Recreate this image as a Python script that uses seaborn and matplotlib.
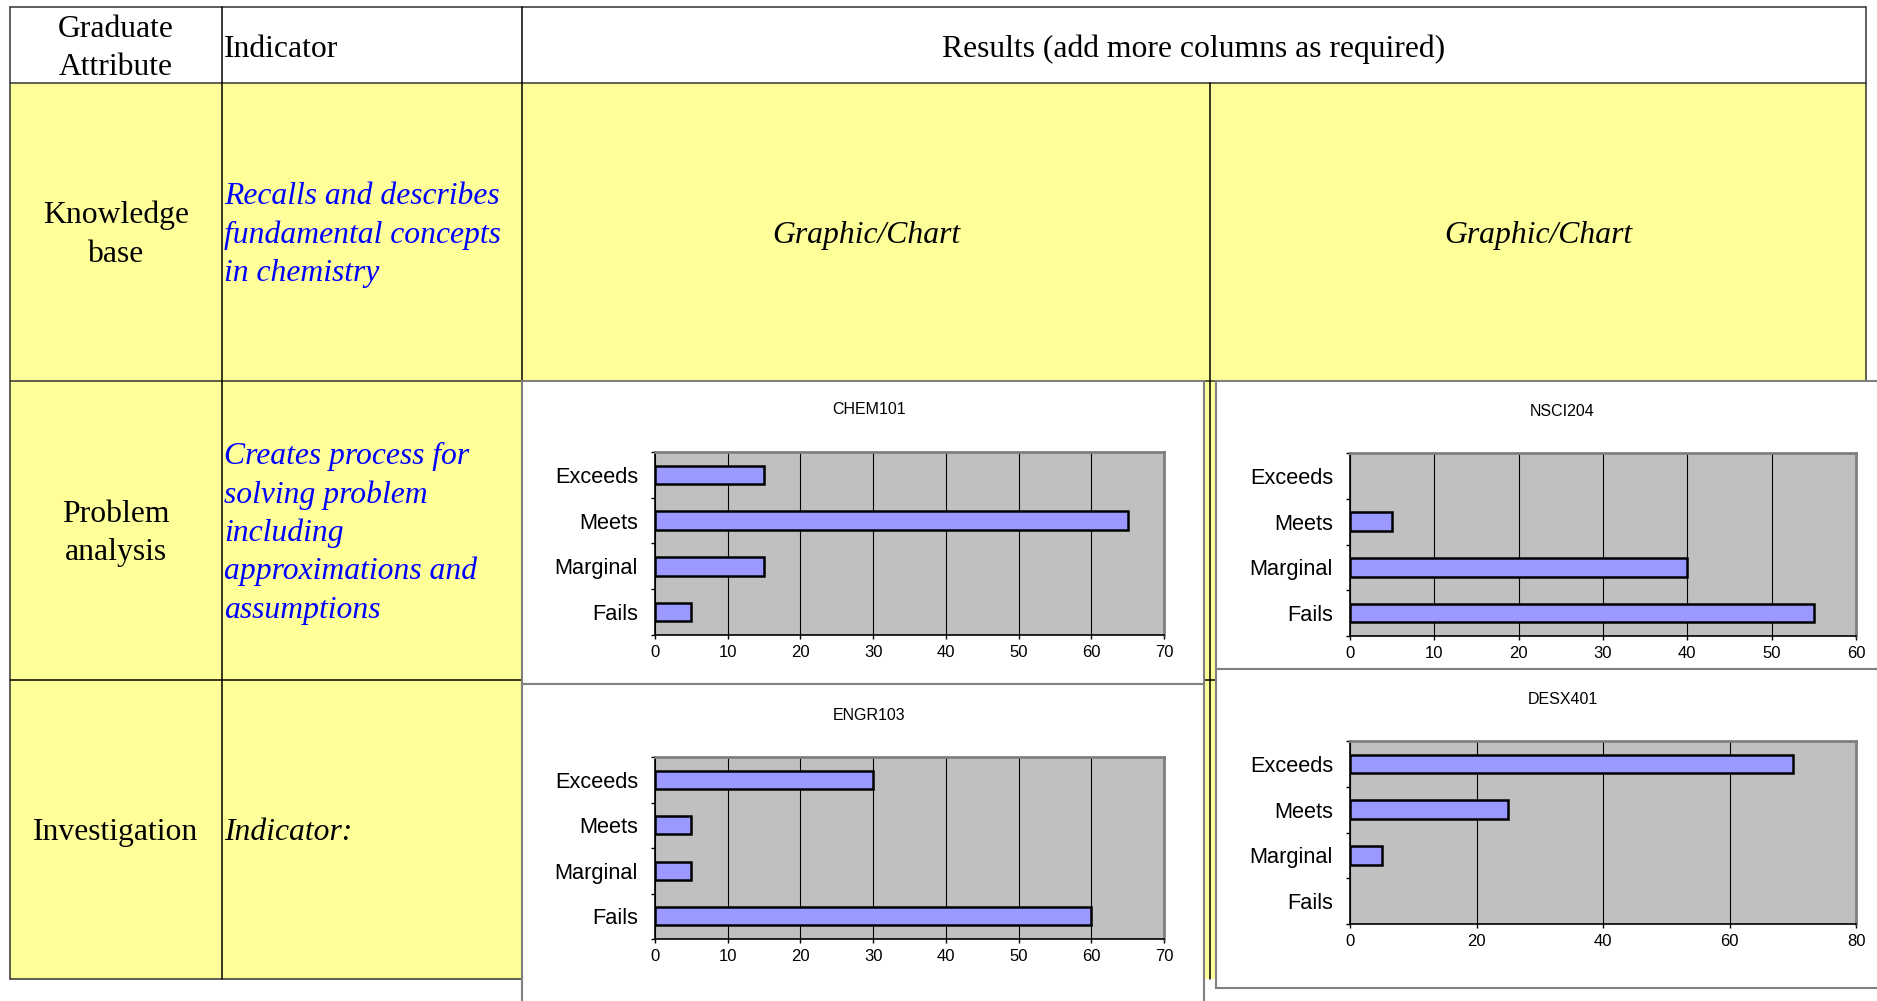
import matplotlib
matplotlib.use("Agg")
import matplotlib.pyplot as plt
import seaborn as sns
import pandas as pd
from matplotlib.patches import Rectangle
from matplotlib.ticker import MultipleLocator, FixedLocator

# ---------------- data ----------------
levels = ["Exceeds", "Meets", "Marginal", "Fails"]
chem101 = [15, 65, 15, 5]
nsci204 = [0, 5, 40, 55]
engr103 = [30, 5, 5, 60]
desx401 = [70, 25, 5, 0]
course_titles = ["CHEM101", "NSCI204", "ENGR103", "DESX401"]
x_max = [70, 60, 70, 80]
x_step = [10, 10, 10, 20]

header_col1 = ["Graduate", "Attribute"]
header_col2 = "Indicator"
header_results = "Results (add more columns as required)"
placeholder = "Graphic/Chart"
attributes = [["Knowledge", "base"], ["Problem", "analysis"], ["Investigation"]]
indicators = [
    ["Recalls and describes", "fundamental concepts", "in chemistry"],
    ["Creates process for", "solving problem", "including", "approximations and", "assumptions"],
    ["Indicator:"],
]
indicator_colors = ["#0000FF", "#0000FF", "black"]

# ---------------- figure ----------------
W, H = 1877, 1001
sns.set_style("white")
plt.rcParams["font.family"] = ["Liberation Sans", "DejaVu Sans"]
plt.rcParams["text.color"] = "black"
plt.rcParams["axes.labelcolor"] = "black"
plt.rcParams["xtick.color"] = "black"
plt.rcParams["ytick.color"] = "black"
fig = plt.figure(figsize=(W / 100, H / 100), dpi=100)
fig.patch.set_facecolor("white")


def px_rect(x0, y0, x1, y1):
    return [x0 / W, 1 - y1 / H, (x1 - x0) / W, (y1 - y0) / H]


bg = fig.add_axes([0, 0, 1, 1])
bg.set_xlim(0, W)
bg.set_ylim(H, 0)
bg.axis("off")

YELLOW = "#FFFF99"
# table geometry (pixels)
L, R = 10, 1866
TOP, HB = 7, 83
ROWS = [83, 381, 680, 979]
C1, C2, C3 = 222, 522, 1210

bg.add_patch(Rectangle((L, HB), R - L, ROWS[3] - HB, facecolor=YELLOW, edgecolor="none", zorder=1))

lw = 1.1
dark = "#333333"
bg.plot([L, R], [TOP, TOP], color=dark, lw=lw, zorder=2)
bg.plot([L, R], [HB, HB], color=dark, lw=lw, zorder=2)
bg.plot([L, L], [TOP, ROWS[3]], color=dark, lw=lw, zorder=2)
bg.plot([R, R], [TOP, ROWS[1]], color=dark, lw=lw, zorder=2)
bg.plot([L, C2], [ROWS[3], ROWS[3]], color=dark, lw=lw, zorder=2)
bg.plot([L, R], [ROWS[1], ROWS[1]], color=dark, lw=lw, zorder=2)
bg.plot([L, C2], [ROWS[2], ROWS[2]], color="black", lw=lw, zorder=2)
bg.plot([1203, 1216], [ROWS[2], ROWS[2]], color="black", lw=lw, zorder=2)
bg.plot([C1, C1], [TOP, ROWS[3]], color="black", lw=lw, zorder=2)
bg.plot([C2, C2], [TOP, ROWS[3]], color="black", lw=lw, zorder=2)
bg.plot([C3, C3], [HB, ROWS[3]], color="black", lw=lw, zorder=2)

serif = "Liberation Serif"
FS = 22.8
SP = 38.3
col1_cx = (L + C1) / 2
txt_x = 224

# header texts
for i, line in enumerate(header_col1):
    bg.text(col1_cx, 36.7 + i * SP, line, family=serif, fontsize=FS, color="black",
            ha="center", va="baseline", zorder=3)
bg.text(txt_x, 56.7, header_col2, family=serif, fontsize=FS, color="black",
        ha="left", va="baseline", zorder=3)
bg.text((C2 + R) / 2, 56.7, header_results, family=serif, fontsize=FS, color="black",
        ha="center", va="baseline", zorder=3)
for cx in [(C2 + C3) / 2, (C3 + R) / 2]:
    bg.text(cx, 243, placeholder, family=serif, fontsize=FS, style="italic", color="black",
            ha="center", va="baseline", zorder=3)

# row texts
for r in range(3):
    mid = (ROWS[r] + ROWS[r + 1]) / 2 + 10.5
    lines = attributes[r]
    n = len(lines)
    for i, line in enumerate(lines):
        bg.text(col1_cx, mid + (i - (n - 1) / 2) * SP, line, family=serif, fontsize=FS,
                color="black", ha="center", va="baseline", zorder=3)
    lines = indicators[r]
    n = len(lines)
    for i, line in enumerate(lines):
        bg.text(txt_x, mid + (i - (n - 1) / 2) * SP, line, family=serif, fontsize=FS, style="italic",
                color=indicator_colors[r], ha="left", va="baseline", zorder=3)

# chart boxes (white panels)
boxes = [(522, 381, 1204, 684), (1216, 381, 1900, 669), (522, 684, 1204, 1020), (1216, 669, 1900, 988)]
for (x0, y0, x1, y1) in boxes:
    bg.add_patch(Rectangle((x0, y0), x1 - x0, y1 - y0, facecolor="white", edgecolor="#808080",
                           lw=1.5, zorder=5))

plots = [(655, 452, 1164, 635), (1350, 453, 1856, 636), (655, 757, 1164, 939), (1350, 741, 1856, 924)]
series = [chem101, nsci204, engr103, desx401]

for k in range(4):
    x0, y0, x1, y1 = plots[k]
    ax = fig.add_axes(px_rect(x0, y0, x1, y1))
    df = pd.DataFrame({"level": levels, "count": series[k]})
    sns.barplot(data=df, x="count", y="level", order=levels, orient="h", color="#9999FF",
                saturation=1, edgecolor="black", linewidth=1.8, width=0.4, ax=ax, zorder=3)
    # Excel draws nothing for zero-valued bars
    for patch in ax.patches:
        if patch.get_width() == 0:
            patch.set_visible(False)
    ax.set_facecolor("#C0C0C0")
    ax.set_xlim(0, x_max[k])
    ax.set_ylim(3.5, -0.5)
    ax.xaxis.set_major_locator(MultipleLocator(x_step[k]))
    ax.grid(False)
    ax.xaxis.grid(True, color="black", lw=0.8)
    ax.set_axisbelow(True)
    ax.set_xlabel("")
    ax.set_ylabel("")
    for s in ["top", "right"]:
        ax.spines[s].set_visible(True)
        ax.spines[s].set_color("#808080")
        ax.spines[s].set_linewidth(2)
    for s in ["left", "bottom"]:
        ax.spines[s].set_visible(True)
        ax.spines[s].set_color("black")
        ax.spines[s].set_linewidth(1.2)
    ax.yaxis.set_minor_locator(FixedLocator([-0.5, 0.5, 1.5, 2.5, 3.5]))
    ax.tick_params(axis="y", which="major", length=0, pad=12.2, labelsize=15.7, labelcolor="black")
    ax.tick_params(axis="y", which="minor", length=3.2, width=1, color="black", direction="out", left=True)
    ax.tick_params(axis="x", which="major", length=3.2, width=1, color="black", direction="out",
                   bottom=True, pad=4.2, labelsize=12, labelcolor="black")
    h = y1 - y0
    ax.set_title(course_titles[k], fontsize=11.5, x=0.42, y=1 + 42 / h, va="center", pad=0,
                 color="black")

fig.savefig("out.png", dpi=100, facecolor="white")
